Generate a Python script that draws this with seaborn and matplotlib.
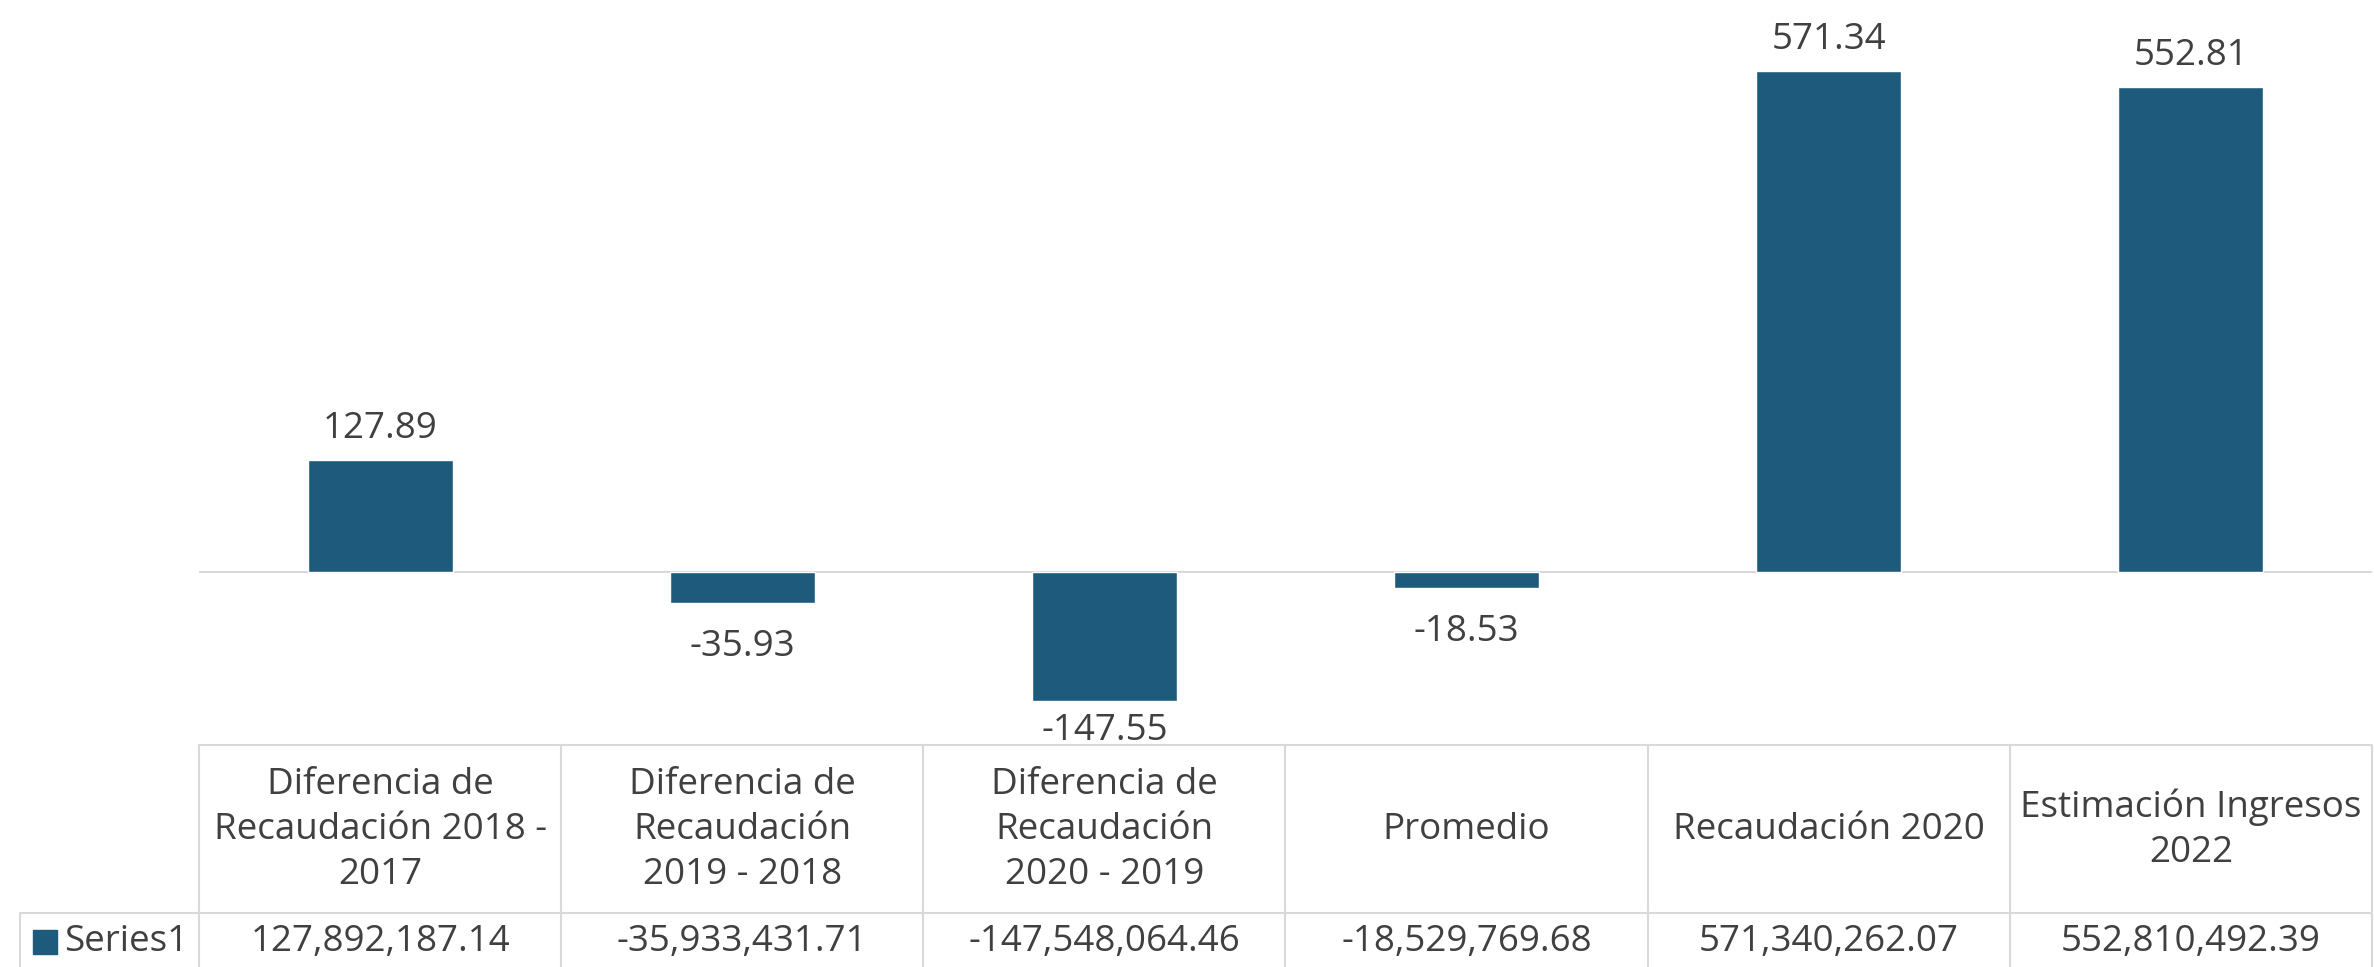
import matplotlib
matplotlib.use("Agg")
import matplotlib.pyplot as plt
import pandas as pd
import seaborn as sns
from matplotlib.lines import Line2D
from matplotlib.patches import Rectangle
from matplotlib.transforms import blended_transform_factory

# --- data -------------------------------------------------------------------
categories = [
    "Diferencia de\nRecaudación 2018 -\n2017",
    "Diferencia de\nRecaudación\n2019 - 2018",
    "Diferencia de\nRecaudación\n2020 - 2019",
    "Promedio",
    "Recaudación 2020",
    "Estimación Ingresos\n2022",
]
values = [127892187.14, -35933431.71, -147548064.46, -18529769.68,
          571340262.07, 552810492.39]
series_name = "Series1"

# --- style ------------------------------------------------------------------
sns.set_theme(style="white")
plt.rcParams["font.family"] = ["Open Sans", "DejaVu Sans"]

BAR = "#1E5A7C"
TXT = "#404040"
GRID = "#D9D9D9"
FS = 26.5

W, H = 2374, 967
fig = plt.figure(figsize=(W / 100, H / 100), dpi=100)
fig.patch.set_facecolor("white")


def fy(px):
    """figure fraction from a pixel row measured from the top"""
    return 1 - px / H


def fx(px):
    return px / W


ax = fig.add_axes([fx(199), fy(747), fx(2372) - fx(199), fy(46) - fy(747)])

df = pd.DataFrame({"cat": categories, "millions": [v / 1e6 for v in values]})
sns.barplot(data=df, x="cat", y="millions", order=categories, color=BAR,
            width=0.4, saturation=1, ax=ax)

ax.set_ylim(-200, 600)
ax.set_xlim(-0.5, len(categories) - 0.5)
ax.axhline(0, color=GRID, lw=1.5, zorder=0)
for s in ax.spines.values():
    s.set_visible(False)
ax.set_xticks([])
ax.set_yticks([])
ax.set_xlabel("")
ax.set_ylabel("")
ax.patch.set_alpha(0)

# data labels, kept inside the plot area
fig.canvas.draw()
px_per_unit = (ax.transData.transform((0, 1))[1] - ax.transData.transform((0, 0))[1])
ymin = ax.get_ylim()[0]
for i, m in enumerate(df["millions"]):
    if m >= 0:
        y = m + 22 / px_per_unit
    else:
        y = max(m - 53 / px_per_unit, ymin + 7 / px_per_unit)
    ax.text(i, y, f"{m:.2f}", ha="center", va="baseline", fontsize=FS,
            color=TXT, clip_on=False)

# --- data table beneath the chart ------------------------------------------
bt = blended_transform_factory(ax.transData, fig.transFigure)
n = len(categories)
top, mid, bot = fy(745), fy(913), fy(967)
lw = 1.5

fig.add_artist(Line2D([-0.5, n - 0.5], [top, top], transform=bt, color=GRID, lw=lw))
for b in range(n + 1):
    fig.add_artist(Line2D([b - 0.5, b - 0.5], [bot, top], transform=bt, color=GRID, lw=lw))
fig.add_artist(Line2D([fx(20), fx(2372)], [mid, mid], transform=fig.transFigure,
                      color=GRID, lw=lw))
fig.add_artist(Line2D([fx(20), fx(20)], [bot, mid], transform=fig.transFigure,
                      color=GRID, lw=lw))

for i, (c, v) in enumerate(zip(categories, values)):
    fig.text(i, fy(830), c, transform=bt, ha="center", va="center",
             fontsize=FS, color=TXT, linespacing=1.34)
    fig.text(i, fy(942), f"{v:,.2f}", transform=bt, ha="center", va="center",
             fontsize=FS, color=TXT)

fig.add_artist(Rectangle((fx(33), fy(954)), fx(24), fy(930) - fy(954),
                         transform=fig.transFigure, color=BAR))
fig.text(fx(64), fy(942), series_name, ha="left", va="center", fontsize=FS, color=TXT)

fig.savefig("out.png", dpi=100, facecolor="white")
